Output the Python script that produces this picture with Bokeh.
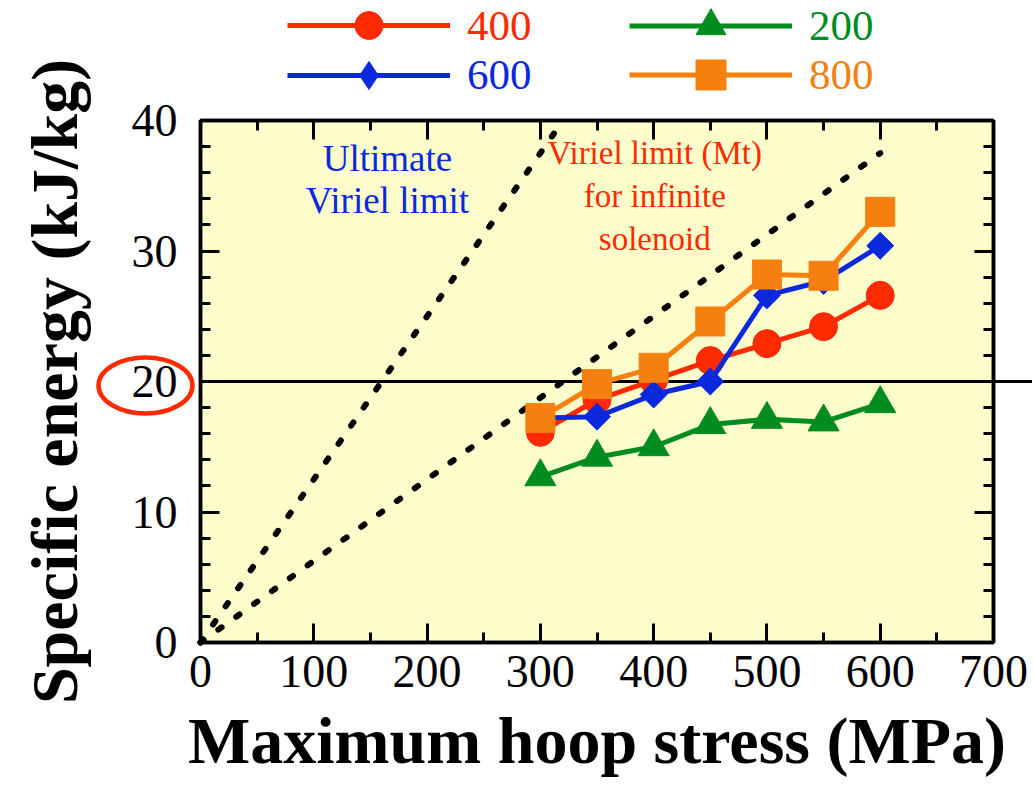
import math
from bokeh.plotting import figure
from bokeh.models import (Legend, LegendItem, Label, LinearAxis,
                          SingleIntervalTicker, Range1d)
from bokeh.embed import file_html
from bokeh.resources import INLINE

# ---------------- data ----------------
stress = [300, 350, 400, 450, 500, 550, 600]
e400 = [16.1, 18.6, 20.1, 21.6, 22.9, 24.2, 26.6]
e200 = [12.7, 14.2, 15.0, 16.7, 17.1, 16.9, 18.3]
e600 = [17.2, 17.3, 19.0, 20.0, 26.6, 27.7, 30.4]
e800 = [17.2, 19.8, 21.05, 24.6, 28.2, 28.1, 33.0]

ultimate_x = [0, 312]
ultimate_y = [0, 39.0]
solenoid_x = [0, 600]
solenoid_y = [0, 37.5]

target_energy = 20
x_ticks = [0, 100, 200, 300, 400, 500, 600, 700]
y_ticks = [0, 10, 20, 30, 40]
X_MIN, X_MAX = 0, 700
Y_MIN, Y_MAX = 0, 40

FONT = "Liberation Serif, Times New Roman, Times, serif"
RED = "#ff2a00"
GREEN = "#008c1e"
BLUE = "#0a28dc"
ORANGE = "#f5800f"
PANEL = "#fdfdcc"

W, H = 1032, 787
# frame of the data box on the canvas (pixels)
FL, FR, FT, FB = 200, 993, 120, 642
sx = (FR - FL) / (X_MAX - X_MIN)
sy = (FB - FT) / (Y_MAX - Y_MIN)

p = figure(width=W, height=H,
           x_range=Range1d(X_MIN - FL / sx, X_MIN + (W - FL) / sx),
           y_range=Range1d(Y_MIN - (H - FB) / sy, Y_MIN + FB / sy),
           output_backend="svg", toolbar_location=None,
           x_axis_location=None, y_axis_location=None,
           min_border=0, background_fill_color="white", border_fill_color="white",
           outline_line_color=None)
p.grid.visible = False

# yellow data panel with black frame
p.quad(left=X_MIN, right=X_MAX, bottom=Y_MIN, top=Y_MAX, fill_color=PANEL,
       line_color="black", line_width=3.5)

bottom = LinearAxis(fixed_location=Y_MIN, bounds=(X_MIN, X_MAX),
                    ticker=SingleIntervalTicker(interval=100, num_minor_ticks=2),
                    axis_label="Maximum hoop stress (MPa)")
left = LinearAxis(fixed_location=X_MIN, bounds=(Y_MIN, Y_MAX),
                  ticker=SingleIntervalTicker(interval=10, num_minor_ticks=5),
                  axis_label="Specific energy (kJ/kg)")
top = LinearAxis(fixed_location=Y_MAX, bounds=(X_MIN, X_MAX),
                 ticker=SingleIntervalTicker(interval=100, num_minor_ticks=2),
                 major_label_overrides={t: "" for t in x_ticks})
right = LinearAxis(fixed_location=X_MAX, bounds=(Y_MIN, Y_MAX),
                   ticker=SingleIntervalTicker(interval=10, num_minor_ticks=5),
                   major_label_overrides={t: "" for t in y_ticks})
p.add_layout(bottom, "below")
p.add_layout(left, "left")
p.add_layout(top, "above")
p.add_layout(right, "right")

for ax in [bottom, left, top, right]:
    ax.axis_line_width = 3.5
    ax.axis_line_color = "black"
    ax.major_tick_in = 19
    ax.major_tick_out = 0
    ax.minor_tick_in = 10
    ax.minor_tick_out = 0
    ax.major_tick_line_width = 3
    ax.minor_tick_line_width = 3
    ax.major_tick_line_color = "black"
    ax.minor_tick_line_color = "black"
    ax.major_label_text_font = FONT
    ax.major_label_text_font_size = "46px"
    ax.major_label_text_color = "black"
    ax.axis_label_text_font = FONT
    ax.axis_label_text_font_style = "bold"
    ax.axis_label_text_font_size = "66px"
    ax.axis_label_text_color = "black"

top.major_label_standoff = 0
right.major_label_standoff = 0
bottom.major_label_standoff = 13
bottom.axis_label_standoff = 14
left.major_label_standoff = 23
left.axis_label_standoff = 38

# dotted limit lines
p.line(ultimate_x, ultimate_y, line_color="black", line_width=6, line_dash="4 18", line_cap="round")
p.line(solenoid_x, solenoid_y, line_color="black", line_width=6, line_dash="4 18", line_cap="round")

# 20 kJ/kg target line (runs past the right edge of the panel)
p.line([X_MIN, p.x_range.end], [target_energy, target_energy], line_color="black", line_width=3)

# red ellipse round the "20" tick label
p.ellipse(x=X_MIN - 55 / sx, y=target_energy - 4 / sy, width=94, height=56,
          width_units="screen", height_units="screen",
          fill_color=None, line_color=RED, line_width=4.5)

series = [
    ("200", e200, GREEN, "triangle", 31, 0.0),
    ("400", e400, RED, "circle", 28, 0.0),
    ("600", e600, BLUE, "square", 19, math.pi / 4),
    ("800", e800, ORANGE, "square", 29, 0.0),
]
renderers = {}
for name, vals, col, mk, sz, ang in series:
    l = p.line(stress, vals, line_color=col, line_width=5)
    s = p.scatter(stress, vals, marker=mk, size=sz, angle=ang, fill_color=col, line_color=col)
    renderers[name] = (l, s, col)

# the legend draws markers unrotated: give the 600 entry a diamond marker
l600, _, _ = renderers["600"]
d600 = p.scatter(stress, e600, marker="diamond", size=30, fill_color=BLUE, line_color=BLUE,
                 visible=False)
renderers["600"] = (l600, d600, BLUE)

# legend: (glyph-left x, line centre y, glyph height) in canvas pixels
legend_spec = {"400": (287, 25.0, 70), "200": (629, 25.0, 75),
               "600": (287, 74.5, 70), "800": (629, 74.5, 75)}
for name in ["400", "200", "600", "800"]:
    l, s, col = renderers[name]
    gx, gy, gh = legend_spec[name]
    leg = Legend(items=[LegendItem(label=name, renderers=[l, s])],
                 location=(gx, H - (gy + gh / 2)), orientation="vertical",
                 glyph_width=163, glyph_height=gh, label_height=gh,
                 label_standoff=17, padding=0, margin=0, spacing=0,
                 border_line_alpha=0, background_fill_alpha=0,
                 inactive_fill_alpha=0,
                 label_text_font=FONT, label_text_font_size="43px",
                 label_text_color=col)
    p.add_layout(leg, "center")

# annotation texts
blue_lines = [("Ultimate", 37.1), ("Viriel limit", 33.9)]
for txt, yy in blue_lines:
    p.add_layout(Label(x=165, y=yy, text=txt, text_align="center", text_baseline="middle",
                       text_font=FONT, text_font_size="37px", text_color=BLUE))
red_lines = [("Viriel limit (Mt)", 37.5), ("for infinite", 34.2), ("solenoid", 30.9)]
for txt, yy in red_lines:
    p.add_layout(Label(x=401, y=yy, text=txt, text_align="center", text_baseline="middle",
                       text_font=FONT, text_font_size="33px", text_color=RED))

open("out.html", "w").write(file_html(p, INLINE))
